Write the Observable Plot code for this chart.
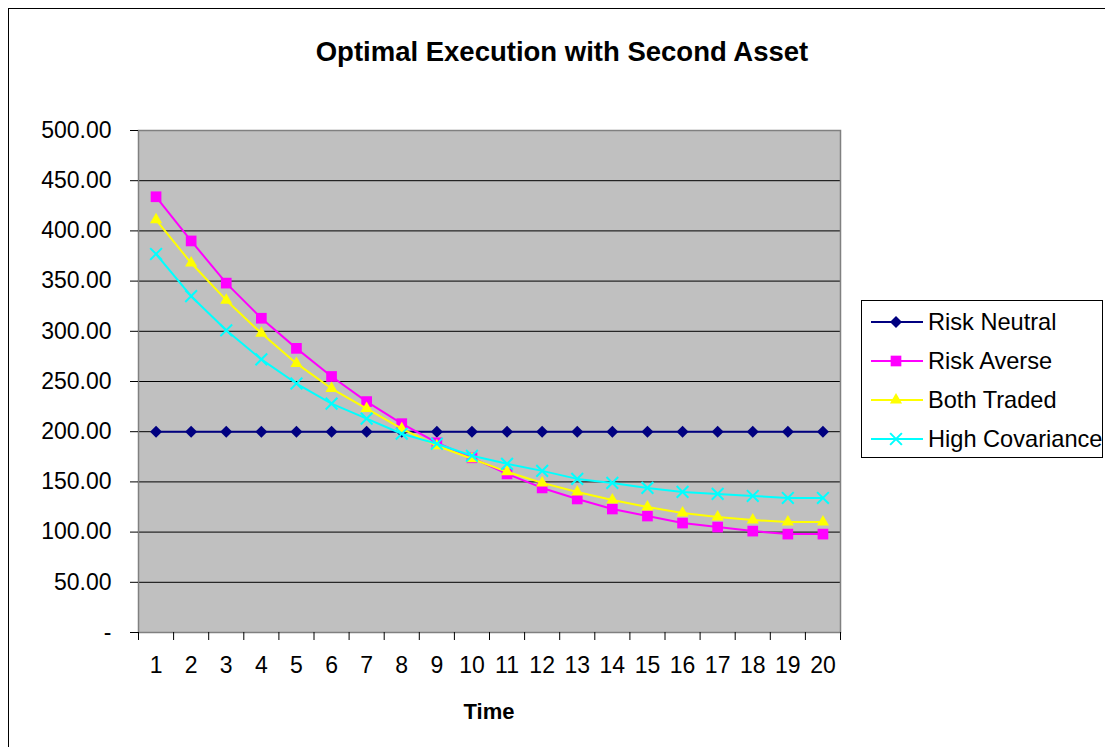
<!DOCTYPE html>
<html>
<head>
<meta charset="utf-8">
<script src="https://cdn.jsdelivr.net/npm/d3@7"></script>
<script src="https://cdn.jsdelivr.net/npm/@observablehq/plot@0.6"></script>
<style>
  html, body { margin: 0; padding: 0; background: #fff; overflow: hidden; }
  body { width: 1105px; height: 747px; position: relative; font-family: "Liberation Sans", Arial, sans-serif; }
  #outer { position: absolute; left: 8px; top: 8px; width: 1200px; height: 900px; border: 1px solid #000; box-sizing: border-box; }
  #title { position: absolute; left: 0; width: 1124px; top: 36px; text-align: center; font-weight: bold; font-size: 27.5px; color: #000; }
  #chart { position: absolute; left: 0; top: 0; }
  #xlabel { position: absolute; left: 0; width: 978px; top: 699px; text-align: center; font-weight: bold; font-size: 22px; color: #000; }
  #legend { position: absolute; left: 861px; top: 300px; width: 242px; height: 158px; border: 1px solid #000; box-sizing: border-box; background: #fff; }
  .row { position: absolute; left: 0; height: 30px; width: 240px; }
  .row svg { position: absolute; left: 7px; top: 0; }
  .row span { position: absolute; left: 66px; top: 1px; font-size: 23.6px; line-height: 28px; color: #000; white-space: nowrap; }
</style>
</head>
<body>
<div id="outer"></div>
<div id="title">Optimal Execution with Second Asset</div>
<div id="chart"></div>
<div id="xlabel">Time</div>
<div id="legend"></div>
<script>
// ---- data ----
const times = [1,2,3,4,5,6,7,8,9,10,11,12,13,14,15,16,17,18,19,20];
const riskNeutral    = [200,200,200,200,200,200,200,200,200,200,200,200,200,200,200,200,200,200,200,200];
const riskAverse     = [434,390,348,313,283,255,230,208,189,174,158,144,133,123,116,109,105,101,98,98];
const bothTraded     = [411,368,331,298,268,243,223,203,186,173,160,149,140,132,125,119,115,112,110,110];
const highCovariance = [377,335,301,272,248,228,213,198,188,176,168,161,153,149,144,140,138,136,134,134];
const seriesNames = ["Risk Neutral", "Risk Averse", "Both Traded", "High Covariance"];
const seriesValues = [riskNeutral, riskAverse, bothTraded, highCovariance];
const yTicks = [0,50,100,150,200,250,300,350,400,450,500];

// ---- styles ----
const styles = [
  {color: "#000080", symbol: "diamond2", r: 5.4, stroked: false},
  {color: "#FF00FF", symbol: "square2", r: 6.8, stroked: false},
  {color: "#FFFF00", symbol: "triangle2", r: 5.8, stroked: false},
  {color: "#00FFFF", symbol: "times", r: 5.4, stroked: true}
];

const tables = seriesValues.map((vals, i) => times.map((t, j) => ({time: t, value: vals[j], series: seriesNames[i]})));
const boundaries = [...times.map(t => t - 0.5), times[times.length - 1] + 0.5];

const marks = [
  Plot.frame({fill: "#C0C0C0", stroke: null}),
  Plot.gridY(yTicks, {stroke: "#000", strokeOpacity: 1, strokeWidth: 1}),
  Plot.frame({stroke: "#808080", strokeWidth: 1.5}),
  Plot.axisY({ticks: yTicks, tickSize: 8, tickPadding: 19, fontSize: 23,
    tickFormat: d => d === 0 ? "-" : d.toFixed(2)}),
  Plot.axisX({ticks: boundaries, tickSize: 8, tickFormat: () => ""}),
  Plot.axisX({ticks: times, tickSize: 0, tickPadding: 24, fontSize: 23, tickFormat: d => String(d)})
];
tables.forEach((tab, i) => {
  const s = styles[i];
  marks.push(Plot.line(tab, {x: "time", y: "value", stroke: s.color, strokeWidth: 2}));
  if (s.stroked) {
    marks.push(Plot.dot(tab, {x: "time", y: "value", symbol: s.symbol, r: s.r, stroke: s.color, strokeWidth: 2}));
  } else {
    marks.push(Plot.dot(tab, {x: "time", y: "value", symbol: s.symbol, r: s.r, fill: s.color, stroke: "none"}));
  }
});

const chart = Plot.plot({
  width: 860,
  height: 747,
  marginLeft: 138,
  marginRight: 20,
  marginTop: 130,
  marginBottom: 115,
  style: {fontFamily: "'Liberation Sans', Arial, sans-serif", background: "transparent", color: "#000"},
  x: {domain: [0.5, 20.5], label: null},
  y: {domain: [0, 500], label: null},
  marks
});
document.getElementById("chart").appendChild(chart);

// ---- legend ----
const legend = document.getElementById("legend");
const rowTops = [6, 45, 84, 123];
seriesNames.forEach((name, i) => {
  const s = styles[i];
  const row = document.createElement("div");
  row.className = "row";
  row.style.top = rowTops[i] + "px";
  const symType = {diamond2: d3.symbolDiamond2, square2: d3.symbolSquare2, triangle2: d3.symbolTriangle2, times: d3.symbolTimes}[s.symbol];
  const path = d3.symbol(symType, s.r * s.r * Math.PI)();
  const fillAttr = s.stroked ? `fill="none" stroke="${s.color}" stroke-width="2"` : `fill="${s.color}"`;
  row.innerHTML = `<svg width="56" height="30"><line x1="2" x2="54" y1="15" y2="15" stroke="${s.color}" stroke-width="2"/><path d="${path}" transform="translate(27,15)" ${fillAttr}/></svg><span>${name}</span>`;
  legend.appendChild(row);
});
</script>
</body>
</html>
